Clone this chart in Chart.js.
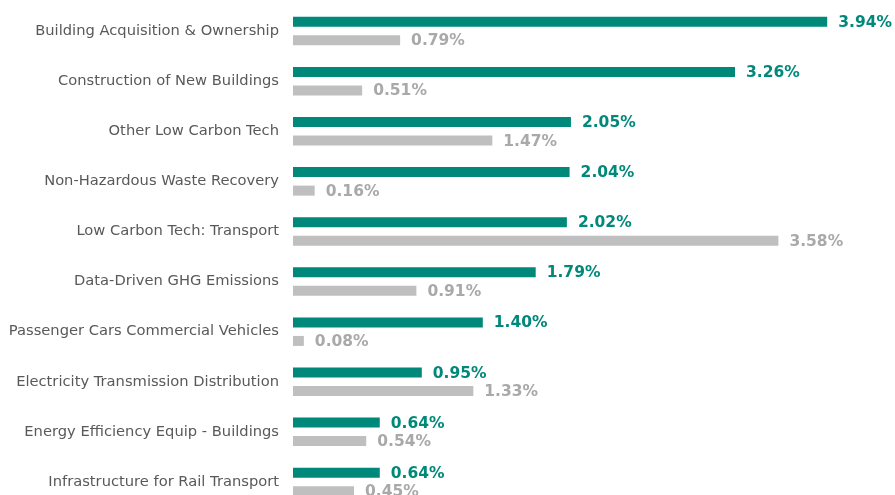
<!DOCTYPE html>
<html>
<head>
<meta charset="utf-8">
<script src="https://cdn.jsdelivr.net/npm/chart.js@4"></script>
<style>
  html, body { margin: 0; padding: 0; overflow: hidden; background: #fff; }
  #wrap { width: 895px; height: 510px; }
</style>
</head>
<body>
<div id="wrap"><canvas id="chart" width="895" height="510"></canvas></div>
<script>
var categories = [
    'Building Acquisition & Ownership',
    'Construction of New Buildings',
    'Other Low Carbon Tech',
    'Non-Hazardous Waste Recovery',
    'Low Carbon Tech: Transport',
    'Data-Driven GHG Emissions',
    'Passenger Cars Commercial Vehicles',
    'Electricity Transmission Distribution',
    'Energy Efficiency Equip - Buildings',
    'Infrastructure for Rail Transport'
];
var tealValues = [3.94, 3.26, 2.05, 2.04, 2.02, 1.79, 1.40, 0.95, 0.64, 0.64];
var grayValues = [0.79, 0.51, 1.47, 0.16, 3.58, 0.91, 0.08, 1.33, 0.54, 0.45];

var TEAL = '#00897b';
var GRAY = '#bfbfbf';
var GRAY_TEXT = '#a9a9a9';

// writes the value at the end of each bar
var valueLabels = {
    id: 'valueLabels',
    afterDatasetsDraw: function (chart) {
        var ctx = chart.ctx;
        ctx.save();
        ctx.font = 'bold 15.5px "DejaVu Sans", Verdana, sans-serif';
        ctx.textBaseline = 'middle';
        ctx.textAlign = 'left';
        chart.data.datasets.forEach(function (ds, i) {
            var meta = chart.getDatasetMeta(i);
            ctx.fillStyle = i === 0 ? TEAL : GRAY_TEXT;
            meta.data.forEach(function (bar, j) {
                ctx.fillText(ds.data[j].toFixed(2) + '%', bar.x + 11, bar.y + 1);
            });
        });
        ctx.restore();
    }
};

new Chart(document.getElementById('chart').getContext('2d'), {
    type: 'bar',
    data: {
        labels: categories,
        datasets: [{
            data: tealValues,
            backgroundColor: TEAL,
            categoryPercentage: 0.74,
            barPercentage: 0.54
        }, {
            data: grayValues,
            backgroundColor: GRAY,
            categoryPercentage: 0.74,
            barPercentage: 0.54
        }]
    },
    options: {
        indexAxis: 'y',
        responsive: false,
        animation: false,
        layout: { padding: { top: 6, bottom: 3, left: 0, right: 0 } },
        plugins: {
            legend: { display: false },
            tooltip: { enabled: false }
        },
        scales: {
            x: {
                display: false,
                min: 0,
                max: 4.44
            },
            y: {
                grid: { display: false, drawTicks: false },
                border: { display: false },
                ticks: {
                    padding: 14,
                    color: '#595959',
                    font: { family: '"DejaVu Sans", Verdana, sans-serif', size: 14.7 }
                },
                afterFit: function (axis) {
                    axis.width = 293;
                    axis.paddingTop = 0;
                    axis.paddingBottom = 0;
                }
            }
        }
    },
    plugins: [valueLabels]
});
</script>
</body>
</html>
